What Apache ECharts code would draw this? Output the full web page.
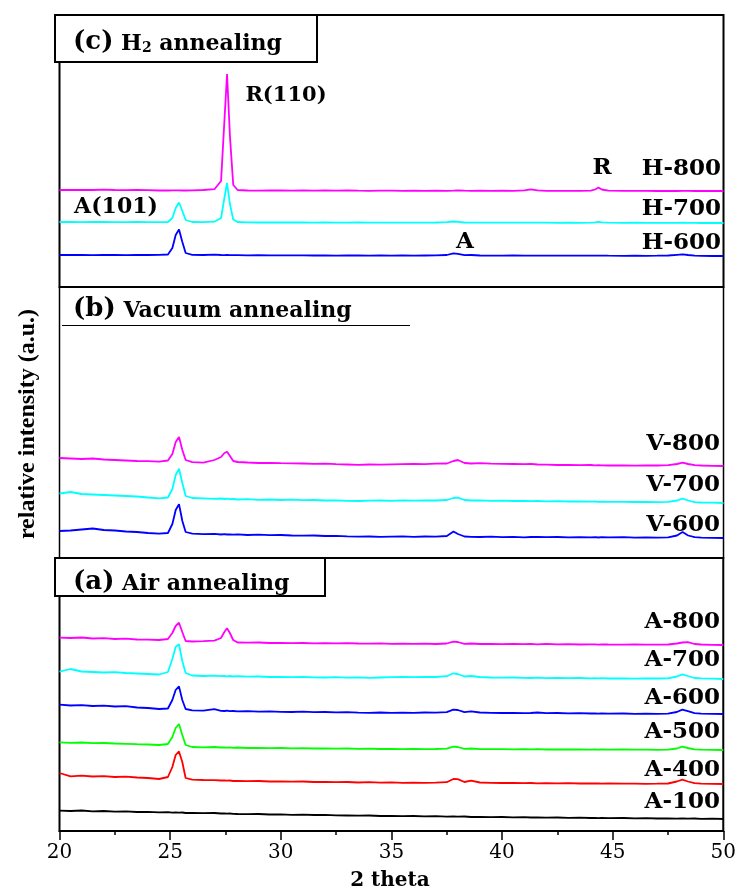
<!DOCTYPE html>
<html>
<head>
<meta charset="utf-8">
<script src="https://cdn.jsdelivr.net/npm/echarts@6/dist/echarts.min.js"></script>
<style>
html,body{margin:0;padding:0;background:#fff;}
#chart{width:739px;height:891px;}
</style>
</head>
<body>
<div id="chart"></div>
<script>
// 2 theta sample positions (degrees)
const twoTheta = [20,20.5,21,21.5,22,22.5,23,23.5,24,24.5,
  24.9,25.1,25.25,25.4,25.55,25.7,26,26.5,27,27.3,
  27.45,27.57,27.7,27.85,28.05,28.5,29,29.5,30,30.5,
  31,31.5,32,32.5,33,33.5,34,34.5,35,35.5,
  36,36.5,37,37.5,37.8,38.0,38.3,38.6,39,39.5,
  40,40.5,41,41.3,41.6,42,42.5,43,43.5,44,
  44.2,44.35,44.5,44.8,45.5,46,46.5,47,47.5,47.9,
  48.15,48.4,48.7,49,49.5,50];

// x-axis tick labels
const xTicks = [20,25,30,35,40,45,50];

// (c) H2 annealing — intensity above each trace's baseline (a.u.)
const h800 = [1,1,1.2,1,1.3,1,0.8,1,0.8,0.5,
  0.5,0.6,0.7,0.6,0.5,0.5,0.7,1,1.8,10,
  70,117,55,6,1,0.5,0.3,0.5,0.5,0.3,
  0.5,0.3,0.5,0.3,0.5,0.3,0.2,0.4,0.3,0.2,
  0.3,0.2,0.3,0.2,0.3,0.5,0.3,0.2,0.3,0.2,
  0.3,0.2,0.6,1.6,0.6,0.2,0.1,0.2,0.1,0.3,
  1.5,3.5,1.5,0.3,0.2,0.1,0.2,0,0.1,0,
  0.2,0.1,0,0.1,0,0];
const h700 = [1,1,0.8,1,1,0.8,0.8,1,0.8,0.8,
  1,5,15,20.5,12,3,1,0.8,1.3,5,
  25,40,19,3.5,1,0.6,0.5,0.6,0.5,0.5,
  0.5,0.4,0.5,0.4,0.3,0.5,0.3,0.4,0.3,0.4,
  0.3,0.4,0.5,0.8,1.5,1.2,0.5,0.4,0.3,0.3,
  0.4,0.3,0.3,0.3,0.4,0.3,0.2,0.3,0.2,0.3,
  0.6,1.2,0.6,0.3,0.2,0.3,0.2,0.2,0.1,0.2,
  0.3,0.2,0.1,0,0.1,0];
const h600 = [1,1.2,1,0.8,1,1.1,0.9,1,1,1.2,
  1.5,8,21,26.5,14,3,1.2,1,1.3,1,
  0.9,1,0.9,0.8,0.8,0.7,0.8,0.6,0.7,0.6,
  0.7,0.5,0.6,0.4,0.6,0.5,0.4,0.6,0.4,0.5,
  0.4,0.5,0.6,1,2.6,2.2,0.8,1,0.5,0.4,
  0.4,0.5,0.3,0.4,0.3,0.4,0.3,0.4,0.3,0.3,
  0.4,0.3,0.4,0.3,0.2,0.3,0.2,0.3,0.5,1.2,
  1.6,1,0.3,0.1,0,0];

// (b) Vacuum annealing
const v800 = [8,7.5,7,7.5,6.5,6,5.5,5,4.8,4.3,
  5.5,12,24,29,16,6,3.8,3.3,6,9,
  13,14.3,10,5,4,3.5,3,3.2,2.8,2.7,
  2.5,2.2,2.3,1.8,1.5,1.2,1.5,1.3,1.6,1.8,
  2,1.8,2.3,2.5,5,6,3,2.5,2.8,2.4,
  2.2,2,1.8,2.1,1.5,1.3,1,1.2,0.8,1,
  0.7,0.9,0.7,0.5,0.6,0.4,0.6,0.5,0.8,2,
  3.3,2,0.8,0.5,0.2,0];
const v700 = [9.5,11,9,8.5,8,7.5,7,6.5,5.5,4.7,
  5.5,14,28,34.3,20,7,5,4.7,4.2,4.5,
  4,4.3,3.8,4,3.5,3.8,3.2,3.5,3,3.3,
  2.8,3,2.5,2.7,2.2,2,2.3,2.5,2.2,2.6,
  2.4,2.7,2.5,3,5,5.4,3,2.5,2.7,2.2,
  2.3,2,2.2,1.8,2,1.7,1.8,1.5,1.6,1.3,
  1.5,1.2,1.4,1.1,1.2,1,1.2,0.9,1.1,2.5,
  4.4,2.5,0.8,0.5,0.3,0];
const v600 = [7,7.5,8.5,9.5,8,7.5,6.5,6,5,4.4,
  5,14,28,33.7,17,6,4.4,3.8,4.2,3.5,
  3.8,3.5,3.7,3.3,3.7,3,3.3,2.8,3,2.5,
  2.3,2.5,2,2.2,1.6,1.3,1.5,1.2,1.4,1.6,
  1.2,1.5,1.3,2,6.5,4,1.5,1.2,1,1.3,
  0.8,1.1,0.7,1,1.2,0.8,1,0.7,0.9,0.6,
  0.8,0.5,0.9,0.6,0.8,0.4,0.6,0.3,0.7,2.5,
  6,2.5,0.8,0.4,0.2,0];

// (a) Air annealing
const a800 = [7.3,7,7.5,6.5,6.8,6,6.3,5.5,5.3,5,
  6,12,19,22.3,13,4,3.5,3.8,4.3,7,
  13,16.7,12,5,2.5,2.3,2.5,2,2.2,1.8,
  2,1.7,1.9,1.6,1.8,1.5,1.4,1.6,1.2,1.4,
  1.2,1.3,1,1.5,3.3,3,1.2,1.5,1,1.2,
  0.8,1,0.8,1.1,0.7,1.2,0.6,0.8,0.5,0.7,
  0.6,0.4,0.7,0.5,0.3,0.6,0.4,0.3,0.5,1.5,
  2.5,2.8,1,0.5,0.2,0];
const a700 = [7.3,10,7.5,7,6.5,6.8,6,5.5,5,4.5,
  7,20,32,34.7,18,6,3.5,3,3.3,2.8,
  3,2.7,3,2.5,2.8,2.3,2.5,2,2.2,1.8,
  2,1.7,1.5,1.8,1.4,1.6,1.2,1.5,1.8,2,
  1.8,2.2,2,2.8,5.7,5,2.5,3,2,1.5,
  1.3,1.5,1.2,1,1.3,0.9,1.1,0.8,1,0.7,
  0.9,0.6,0.8,0.5,0.7,0.4,0.6,0.5,0.7,2.5,
  4.7,3,1,0.6,0.3,0];
const a600 = [9.3,8.5,8.8,8,8.3,7.5,7.8,6.5,6,5,
  5.5,14,24,27.6,14,5,3.6,3.3,4.8,3.2,
  3,3.4,2.8,3,2.6,2.8,2.4,2.7,2.2,2,
  2.3,1.8,2,1.6,1.8,1.4,1.2,1.5,1.1,1.4,
  1.2,1.5,1.3,1.8,4.3,4,1.8,2.6,1.5,1.2,
  1,1.2,0.8,1,1.5,0.8,1,0.6,0.8,0.5,
  0.7,0.4,0.6,0.3,0.5,0.2,0.4,0.2,0.3,2,
  4.3,2.8,0.8,0.3,0.1,0];
const a500 = [7.7,7.2,7.5,6.8,7,6.5,6.2,5.8,5.5,5,
  6,13,22,26,15,5,3,2.7,3,2.5,
  2.7,2.3,2.6,2.2,2.5,2,2.2,1.8,2,1.6,
  1.8,1.5,1.6,1.3,1.5,1.2,1.3,1,1.2,0.9,
  1.1,0.8,1,1.3,3.3,3,1.2,1.5,0.9,0.8,
  0.9,0.7,0.8,0.6,0.8,0.5,0.7,0.5,0.6,0.4,
  0.6,0.4,0.5,0.3,0.5,0.3,0.4,0.2,0.4,1.5,
  3.3,2,0.7,0.3,0.1,0];
const a400 = [11,7.6,8.3,7.5,7.8,7,7.3,6.5,6,5,
  7,17,29,32.6,22,6,4.3,4,3.8,3.5,
  3.7,3.3,3.5,3,3.2,2.8,3,2.5,2.7,2.3,
  2.5,2,2.2,1.8,2,1.5,1.8,1.4,1.6,1.2,
  1.4,1.1,1.3,1.8,5,4.8,2,3.3,1.5,1.2,
  1,1.2,0.8,1,0.7,0.9,0.6,0.8,0.5,0.7,
  0.5,0.6,0.4,0.5,0.3,0.4,0.2,0.3,0.5,2.5,
  4.3,2.5,0.8,0.4,0.2,0];
const a100 = [8.3,8,8.5,7.6,8,7.3,7.6,7,7.2,6.6,
  6.8,6.4,6.6,6.3,6.5,6,6.2,5.8,6,5.5,
  5.7,5.3,5.5,5.2,5,4.8,5,4.5,4.7,4.2,
  4.4,4,4.2,3.7,3.5,3.3,3.5,3,3.2,2.8,
  3,2.6,2.8,2.4,2.6,2.3,2.5,2,2.2,1.8,
  2,1.6,1.8,1.5,1.7,1.3,1.5,1.2,1.4,1,
  1.2,0.9,1.1,0.8,1,0.6,0.8,0.5,0.7,0.4,
  0.6,0.3,0.5,0.2,0.3,0];

// vertical stacking offsets (a.u.) for each trace within its panel
const offsetsC = [96, 64, 31];          // H-800, H-700, H-600
const offsetsB = [92, 55, 20];          // V-800, V-700, V-600
const offsetsA = [186, 152, 117, 81, 47, 12]; // A-800 ... A-100

const namesC = ['H-800','H-700','H-600'];
const namesB = ['V-800','V-700','V-600'];
const namesA = ['A-800','A-700','A-600','A-500','A-400','A-100'];

const colorsC = ['#ff00ff','#00ffff','#0000ff'];
const colorsB = ['#ff00ff','#00ffff','#0000ff'];
const colorsA = ['#ff00ff','#00ffff','#0000ff','#00ff00','#ff0000','#000000'];

const dataC = [h800, h700, h600];
const dataB = [v800, v700, v600];
const dataA = [a800, a700, a600, a500, a400, a100];

const chart = echarts.init(document.getElementById('chart'), null, {renderer:'canvas'});

const L = 59.5, R = 15.5;
const grids = [
  {left:L, right:R, top:15, height:272, show:true, borderColor:'#000', borderWidth:2},
  {left:L, right:R, top:287, height:271, show:true, borderColor:'#000', borderWidth:1.5},
  {left:L, right:R, top:558, height:273, show:true, borderColor:'#000', borderWidth:2}
];
const yMax = [272, 271, 273];

function mkSeries(list, offs, names, colors, gi){
  return list.map((vals, k) => ({
    type:'line', name:names[k], xAxisIndex:gi, yAxisIndex:gi,
    showSymbol:false, symbol:'none', smooth:false,
    lineStyle:{color:colors[k], width:1.8},
    itemStyle:{color:colors[k]},
    data: twoTheta.map((x,i) => [x, offs[k] + vals[i]])
  }));
}

const serif = 'DejaVu Serif';
const series = [].concat(
  mkSeries(dataC, offsetsC, namesC, colorsC, 0),
  mkSeries(dataB, offsetsB, namesB, colorsB, 1),
  mkSeries(dataA, offsetsA, namesA, colorsA, 2)
);

const xAxes = [0,1,2].map(i => ({
  type:'value', gridIndex:i, min:20, max:50, interval:5,
  show: i === 2,
  axisLine:{show:true, lineStyle:{color:'#000', width:2}},
  axisTick:{show:true, inside:false, length:9, lineStyle:{color:'#000', width:1.5}},
  minorTick:{show:true, splitNumber:2, length:4, lineStyle:{color:'#000', width:1.5}},
  splitLine:{show:false},
  axisLabel:{show:true, margin:12, color:'#000', fontFamily:serif, fontSize:20,
    formatter: v => xTicks.indexOf(v) >= 0 ? String(v) : ''}
}));
const yAxes = [0,1,2].map(i => ({
  type:'value', gridIndex:i, min:0, max:yMax[i], show:false, splitLine:{show:false}
}));

function txt(text, x, y, size, align, extra){
  return Object.assign({type:'text', x:x, y:y, z:100, silent:true,
    style:{text:text, fill:'#000', font:'bold '+size+'px "DejaVu Serif"',
      textAlign:align||'center', textVerticalAlign:'middle'}}, extra||{});
}

const titleRich = {
  p:{fontFamily:serif, fontWeight:'bold', fontSize:26, lineHeight:30, verticalAlign:'bottom', color:'#000'},
  t:{fontFamily:serif, fontWeight:'bold', fontSize:22, lineHeight:28, verticalAlign:'bottom', color:'#000'},
  s:{fontFamily:serif, fontWeight:'bold', fontSize:14, lineHeight:16, verticalAlign:'bottom', color:'#000'}
};

const graphic = [
  // panel title boxes
  {type:'rect', z:90, shape:{x:55, y:15, width:262, height:47}, style:{fill:'#fff', stroke:'#000', lineWidth:2}},
  {type:'rect', z:90, shape:{x:55, y:558, width:270, height:38}, style:{fill:'#fff', stroke:'#000', lineWidth:2}},
  {type:'line', z:90, shape:{x1:62, y1:325.5, x2:410, y2:325.5}, style:{stroke:'#000', lineWidth:1}},
  {type:'text', z:100, x:73, y:40, style:{text:'{p|(c)}{t| H}{s|2}{t| annealing}', rich:titleRich, textVerticalAlign:'middle', textAlign:'left'}},
  {type:'text', z:100, x:73, y:307, style:{text:'{p|(b)}{t| Vacuum annealing}', rich:titleRich, textVerticalAlign:'middle', textAlign:'left'}},
  {type:'text', z:100, x:73, y:580, style:{text:'{p|(a)}{t| Air annealing}', rich:titleRich, textVerticalAlign:'middle', textAlign:'left'}},
  // peak labels
  txt('R(110)', 286, 96, 21, 'center'),
  txt('A(101)', 116, 207, 22, 'center'),
  txt('R', 602, 168, 23, 'center'),
  txt('A', 465, 242, 23, 'center'),
  // trace labels
  txt('H-800', 721, 169, 23, 'right'),
  txt('H-700', 721, 209, 23, 'right'),
  txt('H-600', 721, 243, 23, 'right'),
  txt('V-800', 720, 444, 23, 'right'),
  txt('V-700', 720, 485, 23, 'right'),
  txt('V-600', 720, 525, 23, 'right'),
  txt('A-800', 720, 622, 23, 'right'),
  txt('A-700', 720, 660, 23, 'right'),
  txt('A-600', 720, 698, 23, 'right'),
  txt('A-500', 720, 732, 23, 'right'),
  txt('A-400', 720, 770, 23, 'right'),
  txt('A-100', 720, 802, 23, 'right'),
  // axis titles
  txt('2 theta', 390, 881, 20, 'center'),
  {type:'text', z:100, x:28, y:424, rotation:Math.PI/2,
    style:{text:'relative intensity (a.u.)', fill:'#000', font:'bold 24px "Liberation Serif"',
      textAlign:'center', textVerticalAlign:'middle'}}
];

chart.setOption({
  animation:false,
  backgroundColor:'#fff',
  grid:grids,
  xAxis:xAxes,
  yAxis:yAxes,
  series:series,
  graphic:graphic
});
</script>
</body>
</html>
